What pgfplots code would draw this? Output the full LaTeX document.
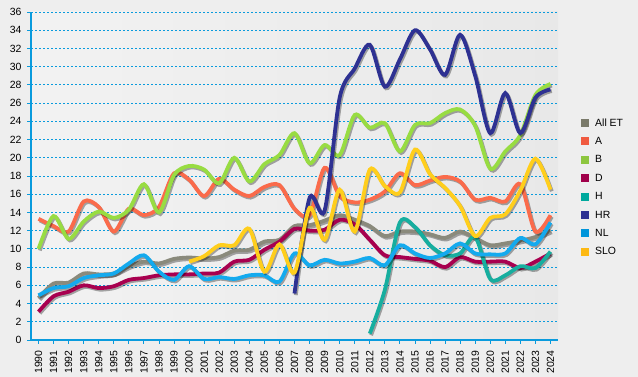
\documentclass[border=0pt]{standalone}
\usepackage{fontspec}
\setmainfont{Liberation Sans}
\usepackage{pgfplots}
\pgfplotsset{compat=1.18}
\usepackage{pgfplotstable}

\definecolor{bgcol}{HTML}{EEEEEE}
\definecolor{axcol}{HTML}{0A9BDD}
\definecolor{cET}{HTML}{8A8A7C}
\definecolor{cA}{HTML}{FA6B4B}
\definecolor{cB}{HTML}{98DC42}
\definecolor{cD}{HTML}{A8004F}
\definecolor{cH}{HTML}{17AE9F}
\definecolor{cHR}{HTML}{2E3192}
\definecolor{cNL}{HTML}{14AAEE}
\definecolor{cSLO}{HTML}{FFCE1C}
\definecolor{lET}{HTML}{7A7A6A}
\definecolor{lA}{HTML}{F05A40}
\definecolor{lB}{HTML}{8DC63F}
\definecolor{lD}{HTML}{A0004A}
\definecolor{lH}{HTML}{00A99D}
\definecolor{lHR}{HTML}{2E3192}
\definecolor{lNL}{HTML}{0095DA}
\definecolor{lSLO}{HTML}{FDB913}

\pgfplotstableread{
x y
1990 4.6
1991 6.2
1992 6.3
1993 7.3
1994 7.2
1995 7.3
1996 8.1
1997 8.6
1998 8.4
1999 8.9
2000 9.05
2001 8.95
2002 9.1
2003 9.8
2004 9.9
2005 10.8
2006 11.0
2007 12.5
2008 12.6
2009 13.1
2010 13.7
2011 13.2
2012 12.5
2013 11.4
2014 11.9
2015 11.9
2016 11.6
2017 11.2
2018 11.9
2019 11.2
2020 10.4
2021 10.6
2022 10.9
2023 11.3
2024 12.0
}\tabET

\pgfplotstableread{
x y
1990 13.3
1991 12.5
1992 11.9
1993 15.2
1994 14.6
1995 11.9
1996 14.4
1997 13.7
1998 14.6
1999 18.3
2000 17.6
2001 15.8
2002 17.7
2003 16.5
2004 15.8
2005 16.8
2006 17.0
2007 14.4
2008 13.7
2009 18.9
2010 15.8
2011 15.1
2012 15.4
2013 16.3
2014 18.3
2015 17.0
2016 17.5
2017 17.9
2018 17.4
2019 15.4
2020 15.6
2021 15.2
2022 17.1
2023 11.9
2024 13.7
}\tabA

\pgfplotstableread{
x y
1990 10.0
1991 13.6
1992 11.1
1993 13.0
1994 14.1
1995 13.4
1996 14.3
1997 17.1
1998 14.0
1999 18.1
2000 19.1
2001 18.7
2002 17.2
2003 20.0
2004 17.4
2005 19.3
2006 20.3
2007 22.7
2008 19.4
2009 21.4
2010 20.3
2011 24.7
2012 23.3
2013 23.8
2014 20.7
2015 23.6
2016 23.8
2017 24.9
2018 25.3
2019 23.5
2020 18.8
2021 20.7
2022 22.5
2023 26.9
2024 28.1
}\tabB

\pgfplotstableread{
x y
1990 3.1
1991 4.8
1992 5.3
1993 6.0
1994 5.7
1995 5.9
1996 6.6
1997 6.8
1998 7.1
1999 7.2
2000 7.2
2001 7.3
2002 7.4
2003 8.6
2004 8.8
2005 9.9
2006 10.8
2007 12.2
2008 12.0
2009 12.1
2010 13.2
2011 12.7
2012 11.0
2013 9.3
2014 9.1
2015 8.9
2016 8.7
2017 8.0
2018 9.1
2019 8.6
2020 8.6
2021 8.6
2022 7.9
2023 8.6
2024 9.5
}\tabD

\pgfplotstableread{
x y
2012 0.7
2013 5.5
2014 12.9
2015 12.4
2016 10.4
2017 9.3
2018 9.5
2019 11.3
2020 6.7
2021 7.1
2022 8.1
2023 7.9
2024 9.7
}\tabH

\pgfplotstableread{
x y
2007 5.1
2008 15.6
2009 14.2
2010 26.6
2011 29.8
2012 32.4
2013 27.8
2014 30.8
2015 34.0
2016 31.9
2017 29.1
2018 33.5
2019 29.0
2020 22.7
2021 27.1
2022 22.7
2023 26.6
2024 27.5
}\tabHR

\pgfplotstableread{
x y
1990 4.9
1991 5.7
1992 5.9
1993 6.8
1994 7.1
1995 7.3
1996 8.4
1997 9.3
1998 7.5
1999 6.6
2000 8.1
2001 6.7
2002 6.9
2003 6.7
2004 7.1
2005 7.1
2006 6.4
2007 9.5
2008 8.2
2009 8.8
2010 8.4
2011 8.6
2012 9.0
2013 8.2
2014 10.4
2015 9.5
2016 9.0
2017 9.5
2018 10.6
2019 9.5
2020 9.4
2021 9.5
2022 11.2
2023 10.5
2024 12.9
}\tabNL

\pgfplotstableread{
x y
2000 8.6
2001 9.2
2002 10.4
2003 10.4
2004 12.2
2005 7.5
2006 10.5
2007 7.4
2008 14.5
2009 11.0
2010 16.5
2011 11.9
2012 18.7
2013 16.9
2014 16.2
2015 20.9
2016 18.2
2017 16.7
2018 14.7
2019 11.4
2020 13.4
2021 13.8
2022 16.4
2023 19.9
2024 16.5
}\tabSLO

\pgfplotsset{
  shd/.style={draw=black, draw opacity=0.33, line width=3.8bp, smooth, forget plot,
    transform canvas={xshift=1.3bp, yshift=-1.6bp}},
  ln/.style={draw=#1, line width=3.8bp, smooth, forget plot},
}

\begin{document}
\begin{tikzpicture}
\fill[bgcol] (0bp,0bp) rectangle (638bp,377bp);
\useasboundingbox (0bp,0bp) rectangle (638bp,377bp);
\begin{axis}[
  at={(31bp,37bp)}, anchor=south west,
  scale only axis, width=527bp, height=328bp,
  xmin=1989.5, xmax=2024.5, ymin=0, ymax=36,
  xtick={1990,1991,...,2024}, ytick={0,2,...,36},
  /pgf/number format/assume math mode=true,
  /pgf/number format/1000 sep={},
  x tick label style={rotate=90, anchor=east},
  xticklabel shift=3bp, yticklabel shift=2bp,
  tick label style={font=\fontsize{10.5}{12}\selectfont, black},
  axis lines*=left,
  axis line style={draw=axcol, line width=1.3bp},
  tick align=outside, major tick length=4bp,
  tick style={draw=axcol, line width=0.9bp},
  ymajorgrids,
  grid style={draw=axcol, dash pattern=on 2bp off 2bp, line width=0.9bp},
  axis background/.style={left color=black!5, middle color=white!97!black, right color=black!9},
  legend image code/.code={\fill[#1] (0bp,-4bp) rectangle (8bp,4bp);},
  legend cell align=left,
  legend style={draw=none, fill=none, at={(1,0.465)}, anchor=west, xshift=23bp,
    font=\fontsize{10.5}{12}\selectfont, inner sep=0pt, row sep=6.4bp,
    /tikz/every odd column/.append style={column sep=5bp},
    nodes={inner sep=1bp, text height=8bp, text depth=2bp}},
]
\addplot[shd] table {\tabET};  \addplot[ln=cET] table {\tabET};
\addplot[shd] table {\tabA};   \addplot[ln=cA] table {\tabA};
\addplot[shd] table {\tabB};   \addplot[ln=cB] table {\tabB};
\addplot[shd] table {\tabD};   \addplot[ln=cD] table {\tabD};
\addplot[shd] table {\tabH};   \addplot[ln=cH] table {\tabH};
\addplot[shd] table {\tabHR};  \addplot[ln=cHR] table {\tabHR};
\addplot[shd] table {\tabNL};  \addplot[ln=cNL] table {\tabNL};
\addplot[shd] table {\tabSLO}; \addplot[ln=cSLO] table {\tabSLO};
\addlegendimage{fill=lET, draw=none}
\addlegendimage{fill=lA, draw=none}
\addlegendimage{fill=lB, draw=none}
\addlegendimage{fill=lD, draw=none}
\addlegendimage{fill=lH, draw=none}
\addlegendimage{fill=lHR, draw=none}
\addlegendimage{fill=lNL, draw=none}
\addlegendimage{fill=lSLO, draw=none}
\legend{All ET, A, B, D, H, HR, NL, SLO}
\end{axis}
\end{tikzpicture}
\end{document}
